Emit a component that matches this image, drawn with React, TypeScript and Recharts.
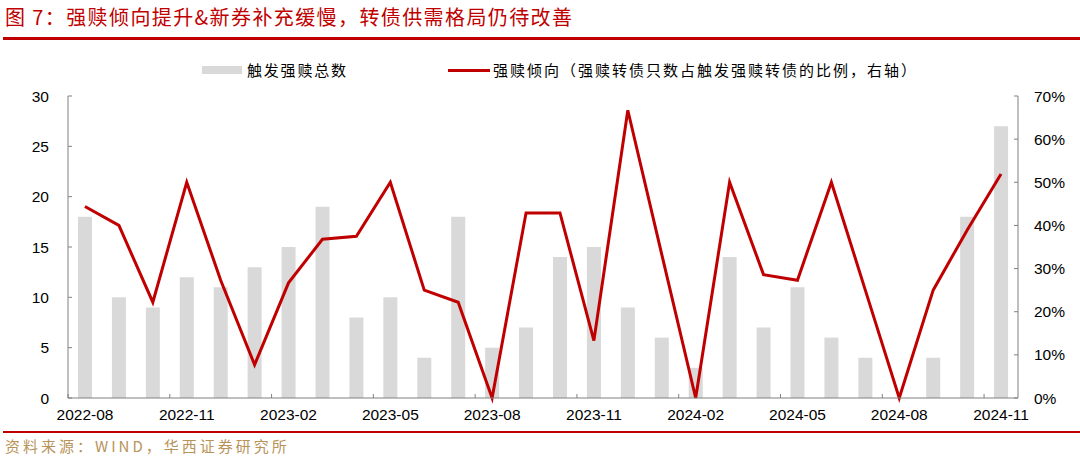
import { ComposedChart, Bar, Line, XAxis, YAxis } from "recharts";

// 月份（2022-08 至 2024-11）
const months = [
  "2022-08", "2022-09", "2022-10", "2022-11", "2022-12", "2023-01", "2023-02",
  "2023-03", "2023-04", "2023-05", "2023-06", "2023-07", "2023-08", "2023-09",
  "2023-10", "2023-11", "2023-12", "2024-01", "2024-02", "2024-03", "2024-04",
  "2024-05", "2024-06", "2024-07", "2024-08", "2024-09", "2024-10", "2024-11",
];

// 触发强赎总数（左轴）
const triggerCount = [
  18, 10, 9, 12, 11, 13, 15, 19, 8, 10, 4, 18, 5, 7,
  14, 15, 9, 6, 3, 14, 7, 11, 6, 4, 0, 4, 18, 27,
];

// 强赎倾向 %（右轴）
const redeemRatio = [
  44.4, 40.0, 22.2, 50.0, 27.3, 7.7, 26.7, 36.8, 37.5, 50.0, 25.0, 22.2, 0, 42.9,
  42.9, 13.3, 66.7, 33.3, 0, 50.0, 28.6, 27.3, 50.0, 25.0, 0, 25.0, 38.9, 51.9,
];

const leftTicks = [0, 5, 10, 15, 20, 25, 30];
const rightTicks = [0, 10, 20, 30, 40, 50, 60, 70];

const data = months.map((m, i) => ({
  month: m,
  count: triggerCount[i],
  ratio: redeemRatio[i],
}));

const RED = "#C00000";
const BAR = "#D9D9D9";
const AXIS = "#808080";
const NUM_FONT = "'Liberation Sans', Arial, sans-serif";
const CJK_FONT = "'Noto Sans CJK SC', sans-serif";

const W = 1080;
const PLOT_LEFT = 68;
const PLOT_RIGHT = 1018;
const PLOT_TOP = 96;
const PLOT_BOTTOM = 398;
const BAND = (PLOT_RIGHT - PLOT_LEFT) / months.length;

// x 轴标签 + 类目左边界处向上的短刻度
function MonthTick(props: any) {
  const { x, payload } = props;
  const edge = x - BAND / 2;
  return (
    <g>
      <line x1={edge} x2={edge} y1={PLOT_BOTTOM} y2={PLOT_BOTTOM - 4} stroke={AXIS} />
      <text
        x={x}
        y={PLOT_BOTTOM + 22}
        textAnchor="middle"
        fontFamily={NUM_FONT}
        fontSize={15.5}
        fill="#000"
      >
        {payload.value}
      </text>
    </g>
  );
}

export default function App() {
  return (
    <div
      style={{
        position: "absolute",
        left: 0,
        top: 0,
        width: W,
        height: 459,
        background: "#fff",
        overflow: "hidden",
      }}
    >
      {/* ── 标题 ── */}
      <div
        style={{
          position: "absolute",
          left: 5,
          top: 3,
          fontFamily: CJK_FONT,
          fontSize: 20,
          letterSpacing: 1.4,
          color: RED,
          whiteSpace: "nowrap",
          lineHeight: "28px",
        }}
      >
        图 7：强赎倾向提升&新券补充缓慢，转债供需格局仍待改善
      </div>
      <div
        style={{
          position: "absolute",
          left: 3,
          top: 37,
          width: W - 3,
          height: 2.5,
          background: RED,
        }}
      />

      {/* ── 图例 ── */}
      <div
        style={{
          position: "absolute",
          left: 202,
          top: 66,
          width: 40,
          height: 8,
          background: BAR,
        }}
      />
      <div
        style={{
          position: "absolute",
          left: 247,
          top: 59,
          fontFamily: CJK_FONT,
          fontSize: 15,
          letterSpacing: 1.8,
          lineHeight: "22px",
          color: "#000",
          whiteSpace: "nowrap",
        }}
      >
        触发强赎总数
      </div>
      <div
        style={{
          position: "absolute",
          left: 448,
          top: 68.5,
          width: 42,
          height: 3,
          background: RED,
        }}
      />
      <div
        style={{
          position: "absolute",
          left: 493,
          top: 59,
          fontFamily: CJK_FONT,
          fontSize: 15,
          letterSpacing: 2,
          lineHeight: "22px",
          color: "#000",
          whiteSpace: "nowrap",
        }}
      >
        强赎倾向（强赎转债只数占触发强赎转债的比例，右轴）
      </div>

      {/* ── 图表 ── */}
      <div style={{ position: "absolute", left: 0, top: 0 }}>
        <ComposedChart
          width={W}
          height={459}
          data={data}
          margin={{ top: PLOT_TOP, right: 0, bottom: 459 - PLOT_BOTTOM - 30, left: 0 }}
          barCategoryGap={0}
        >
          <XAxis
            dataKey="month"
            interval={2}
            height={30}
            tickLine={false}
            axisLine={{ stroke: AXIS }}
            tick={<MonthTick />}
          />
          <YAxis
            yAxisId="left"
            orientation="left"
            width={PLOT_LEFT}
            domain={[0, 30]}
            ticks={leftTicks}
            interval={0}
            tickSize={-4}
            tickMargin={23}
            axisLine={{ stroke: AXIS }}
            tickLine={{ stroke: AXIS }}
            tick={{ fontFamily: NUM_FONT, fontSize: 15.5, fill: "#000" }}
          />
          <YAxis
            yAxisId="right"
            orientation="right"
            width={W - PLOT_RIGHT}
            domain={[0, 70]}
            ticks={rightTicks}
            interval={0}
            tickSize={-4}
            tickMargin={20}
            tickFormatter={(v: number) => `${v}%`}
            axisLine={{ stroke: AXIS }}
            tickLine={{ stroke: AXIS }}
            tick={{ fontFamily: NUM_FONT, fontSize: 15.5, fill: "#000" }}
          />
          <Bar
            yAxisId="left"
            dataKey="count"
            fill={BAR}
            barSize={14}
            isAnimationActive={false}
          />
          <Line
            yAxisId="right"
            dataKey="ratio"
            type="linear"
            stroke={RED}
            strokeWidth={3}
            dot={false}
            activeDot={false}
            isAnimationActive={false}
          />
        </ComposedChart>
      </div>

      {/* ── 资料来源 ── */}
      <div
        style={{
          position: "absolute",
          left: 3,
          top: 431,
          width: W - 3,
          height: 2,
          background: RED,
        }}
      />
      <div
        style={{
          position: "absolute",
          left: 5,
          top: 435,
          fontFamily: CJK_FONT,
          fontSize: 15,
          letterSpacing: 3,
          lineHeight: "22px",
          color: "#B8935A",
          whiteSpace: "nowrap",
        }}
      >
        资料来源：WIND，华西证券研究所
      </div>
    </div>
  );
}
